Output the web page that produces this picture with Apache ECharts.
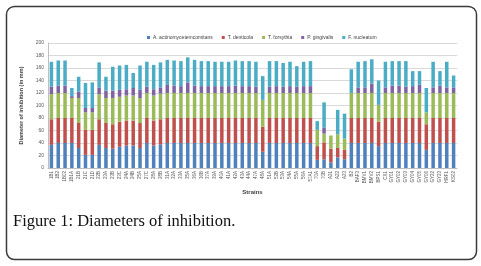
<!DOCTYPE html>
<html>
<head>
<meta charset="utf-8">
<script src="https://cdn.jsdelivr.net/npm/echarts@6/dist/echarts.min.js"></script>
<style>
  html, body { margin: 0; padding: 0; background: #fff; }
  #main { width: 481px; height: 266px; }
</style>
</head>
<body>
<div id="main"></div>
<script>
var strains = ['1B1', '1B2', '1B02', '1B1A', '21B', '21C', '21D', '22B', '23A', '23B',
    '23C', '24A', '24B', '25A', '27C', '28A', '28B', '31A', '32A', '33A',
    '35A', '36A', '36B', '37A', '39A', '40A', '41A', '42A', '43A', '44A',
    '47A', '48A', '51A', '52B', '53A', '54A', '55A', '56A', '57A1',
    '70A', '70B', 'A21', 'A22', 'A23', 'B2', 'BAF3', 'BMV1', 'BMV2', 'BPS1', 'CX1',
    'GY01', 'GY02', 'GY03', 'GY04', 'GY05', 'GY06', 'GY22', 'GY23', 'HRF1', 'KS02'];

var aActino = [37, 40, 40, 40, 32, 21, 21, 37, 32, 31, 34, 36, 36, 32, 40, 36, 38, 40, 40, 40,
    40, 40, 40, 40, 40, 40, 40, 40, 40, 40, 40, 26, 40, 40, 40, 40, 40, 40, 40,
    13, 14, 9, 17, 14, 40, 40, 40, 40, 35, 40, 40, 40, 40, 40, 40, 29, 40, 40, 40, 40];
var tDenticola = [41, 40, 40, 40, 40, 40, 40, 41, 40, 39, 40, 40, 40, 40, 40, 40, 40, 40, 40, 40,
    40, 40, 40, 40, 40, 40, 40, 40, 40, 40, 40, 40, 40, 40, 40, 40, 40, 40, 40,
    22, 27, 22, 15, 15, 40, 40, 40, 40, 39, 40, 40, 40, 40, 40, 40, 41, 40, 40, 40, 40];
var tForsythia = [40, 40, 40, 32, 40, 28, 28, 40, 40, 42, 40, 40, 40, 40, 40, 40, 41, 40, 40, 40,
    40, 40, 40, 40, 40, 40, 40, 40, 40, 40, 40, 43, 40, 40, 40, 40, 40, 40, 40,
    26, 14, 21, 22, 18, 40, 40, 40, 40, 27, 40, 40, 40, 40, 40, 40, 19, 40, 40, 40, 40];
var pGingivalis = [12, 12, 12, 3, 10, 7, 7, 11, 12, 12, 11, 10, 12, 13, 10, 10, 10, 13, 12, 11,
    17, 12, 11, 11, 11, 11, 11, 12, 11, 11, 10, 0, 10, 11, 10, 11, 10, 11, 11,
    0, 10, 0, 0, 0, 0, 9, 9, 15, 0, 9, 12, 12, 10, 11, 13, 0, 9, 12, 9, 9];
var fNucleatum = [40, 40, 40, 13, 24, 40, 41, 40, 22, 38, 39, 39, 24, 39, 40, 39, 40, 40, 40, 40,
    40, 41, 40, 40, 39, 39, 39, 40, 40, 40, 40, 38, 41, 40, 38, 39, 33, 39, 40,
    14, 40, 0, 39, 40, 38, 41, 42, 39, 39, 41, 39, 39, 41, 24, 22, 39, 41, 23, 41, 19];

var seriesNames = ['A. actinomycetemcomitans', 'T. denticola', 'T. forsythia', 'P. gingivalis', 'F. nucleatum'];
var seriesData = [aActino, tDenticola, tForsythia, pGingivalis, fNucleatum];
var colors = ['#4F81BD', '#C0504D', '#9BBB59', '#8064A2', '#4BACC6'];

var chart = echarts.init(document.getElementById('main'));
var font = 'Liberation Sans';

var option = {
    animation: false,
    color: colors,
    textStyle: { fontFamily: font },
    legend: {
        top: 30,
        left: 142,
        itemWidth: 3,
        itemHeight: 3,
        itemGap: 9,
        icon: 'rect',
        textStyle: { fontSize: 5, color: '#404040', padding: [0, 0, 0, -2] },
        data: seriesNames
    },
    grid: { left: 48, right: 24, top: 43, bottom: 98, containLabel: false },
    xAxis: {
        type: 'category',
        data: strains,
        name: 'Strains',
        nameLocation: 'middle',
        nameGap: 21,
        nameTextStyle: { fontSize: 6, fontWeight: 'bold', color: '#404040' },
        axisLine: { lineStyle: { color: '#BFBFBF', width: 1 } },
        axisTick: { show: false },
        axisLabel: { interval: 0, rotate: 90, fontSize: 4.5, color: '#595959', margin: 3 }
    },
    yAxis: {
        type: 'value',
        min: 0,
        max: 200,
        interval: 20,
        name: 'Diameter of inhibition (in mm)',
        nameLocation: 'middle',
        nameGap: 17,
        nameTextStyle: { fontSize: 5.5, fontWeight: 'bold', color: '#404040' },
        axisLine: { show: true, lineStyle: { color: '#BFBFBF', width: 1 } },
        axisTick: { show: false },
        axisLabel: { fontSize: 5, color: '#595959', margin: 4 },
        splitLine: { lineStyle: { color: '#D9D9D9', width: 1 } }
    },
    graphic: [
        {
            type: 'rect',
            shape: { x: 6.5, y: 6.5, width: 470, height: 253, r: 8 },
            style: { fill: 'none', stroke: '#3a3a3a', lineWidth: 1.5 },
            silent: true
        },
        {
            type: 'text',
            left: 13,
            top: 213,
            style: {
                text: 'Figure 1: Diameters of inhibition.',
                font: '16.5px "Liberation Serif"',
                fill: '#111'
            }
        }
    ],
    series: seriesNames.map(function (name, i) {
        return {
            name: name,
            type: 'bar',
            stack: 'total',
            barWidth: 3.5,
            data: seriesData[i]
        };
    })
};

chart.setOption(option);
</script>
</body>
</html>
